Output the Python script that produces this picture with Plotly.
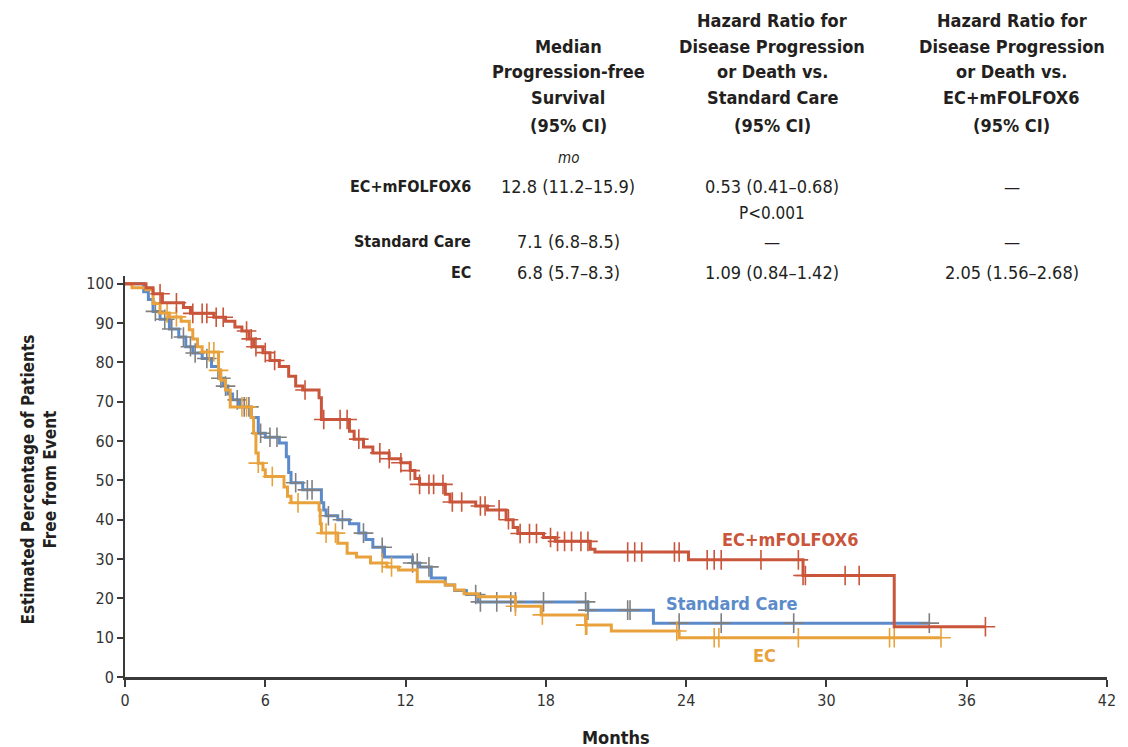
import plotly.graph_objects as go

# ---------------- data ----------------
red_t = [0, 0.9, 1.2, 1.6, 2.5, 2.8, 3.8, 4.3, 4.7, 5.0, 5.3, 5.5, 5.9, 6.2, 6.6, 7.0, 7.3, 7.6,
         8.3, 8.4, 9.6, 9.8, 10.2, 10.6, 11.3, 11.8, 12.2, 12.4, 12.6, 13.7, 13.9, 15.0, 15.5,
         16.3, 16.6, 16.8, 17.9, 18.4, 19.9, 20.1, 24.1, 29.0, 32.9]
red_s = [100, 99, 97.5, 95.2, 94, 92.5, 91.5, 90.5, 89, 88, 86, 84, 82.5, 80.5, 79, 76.5, 74, 73,
         71, 65.5, 62.5, 60.5, 58.5, 57, 55.5, 54.5, 52.5, 50.5, 49, 46.5, 44.5, 43.5, 42.5,
         40, 38, 36.5, 35.5, 34.5, 32.5, 31.8, 29.8, 25.8, 12.8]
red_end = 36.8
red_cens = [1.5, 2.2, 2.9, 3.3, 3.5, 3.9, 4.2, 5.2, 5.4, 5.6, 6.0, 6.4, 7.7, 8.5, 9.2, 9.5, 10.0,
            10.9, 11.3, 11.8, 12.2, 12.6, 13.0, 13.2, 13.6, 14.0, 14.4, 15.2, 15.4, 16.0, 16.4,
            16.9, 17.3, 17.6, 18.2, 18.5, 18.8, 19.1, 19.5, 19.8, 21.5, 21.8, 22.1, 23.5, 23.7,
            24.9, 25.2, 25.5, 27.2, 28.8, 29.0, 29.1, 30.8, 31.4, 36.8]

blue_t = [0, 0.8, 1.0, 1.2, 1.5, 1.9, 2.3, 2.6, 2.9, 3.3, 3.7, 4.0, 4.2, 4.4, 4.6, 4.9, 5.4, 5.7,
          6.0, 6.6, 6.9, 7.0, 7.1, 7.6, 8.4, 8.5, 8.6, 9.1, 9.6, 10.0, 10.3, 10.6, 11.1, 12.3,
          12.6, 13.1, 13.7, 14.1, 14.6, 15.1, 19.8, 22.6]
blue_s = [100, 98, 96, 93, 91, 88.5, 86.5, 84, 82.4, 81, 79, 76, 74, 72, 70.5, 68.7, 66, 62,
          61, 59.5, 56, 52, 49.4, 47.6, 44.3, 42.5, 41, 40, 39, 36.6, 35, 33, 30.5, 29,
          28, 25.2, 23.4, 22, 21, 19.1, 17, 13.7]
blue_end = 34.4
blue_cens = [1.3, 1.7, 2.0, 2.5, 2.8, 3.0, 3.5, 4.1, 4.3, 4.8, 5.1, 5.3, 5.8, 6.2, 6.5, 7.3, 7.8,
             8.0, 8.7, 9.3, 10.2, 11.0, 12.3, 12.5, 13.0, 15.0, 15.2, 15.9, 16.5, 16.7, 17.9,
             19.7, 19.8, 21.5, 21.6, 23.7, 25.5, 28.6, 34.4]

orange_t = [0, 0.3, 0.9, 1.2, 1.5, 1.9, 2.4, 2.75, 2.9, 3.1, 3.3, 4.0, 4.1, 4.3, 4.5, 5.4, 5.5,
            5.6, 5.7, 5.9, 6.0, 6.8, 6.95, 7.1, 8.3, 8.35, 8.4, 9.1, 9.5, 9.9, 10.5, 11.2, 11.7,
            12.5, 13.7, 14.1, 14.5, 15.1, 16.7, 17.8, 19.7, 20.8, 23.7]
orange_s = [100, 99, 98.5, 95, 92.6, 91.6, 90.5, 88.3, 86, 84, 82.7, 78, 75.5, 73, 68.7, 66, 62,
            57, 54.4, 52.7, 51, 48.3, 46, 44.3, 42.5, 39, 36.6, 34, 31.5, 30.5, 29, 28, 27.2,
            24.2, 23.4, 22.1, 21.2, 20.4, 18, 15.8, 13.2, 11.7, 10]
orange_end = 34.9
orange_cens = [1.8, 2.2, 3.6, 3.8, 4.0, 5.0, 5.2, 5.7, 6.3, 7.4, 8.6, 9.0, 11.0, 11.4, 16.7, 17.85,
               19.7, 19.75, 23.6, 25.2, 25.4, 28.8, 32.7, 32.9, 34.9]

x_ticks = [0, 6, 12, 18, 24, 30, 36, 42]
y_ticks = [0, 10, 20, 30, 40, 50, 60, 70, 80, 90, 100]

groups = ["EC+mFOLFOX6", "Standard Care", "EC"]
median_pfs = ["12.8 (11.2–15.9)", "7.1 (6.8–8.5)", "6.8 (5.7–8.3)"]
hr_vs_std = ["0.53 (0.41–0.68)", "—", "1.09 (0.84–1.42)"]
hr_vs_combo = ["—", "—", "2.05 (1.56–2.68)"]
p_value = "P<0.001"

RED = "#C9553B"
BLUE = "#5B8BCA"
ORANGE = "#E9A23B"
GRAY = "#808080"
TXT = "#231F20"
FONT = "Liberation Sans Narrow, DejaVu Sans Condensed, Liberation Sans, sans-serif"

# ---------------- helpers ----------------
def step_value(ts, ss, t):
    v = ss[0]
    for ti, si in zip(ts, ss):
        if t >= ti:
            v = si
    return v

fig = go.Figure()

def add_curve(ts, ss, end, cens, color, ccolor, name):
    fig.add_trace(go.Scatter(x=ts + [end], y=ss + [ss[-1]], mode="lines",
                             line=dict(color=color, width=3, shape="hv"),
                             name=name, showlegend=False, hoverinfo="skip"))
    fig.add_trace(go.Scatter(x=cens, y=[step_value(ts, ss, c) for c in cens], mode="markers",
                             marker=dict(symbol="cross-thin", size=14,
                                         line=dict(color=ccolor, width=1.6)),
                             showlegend=False, hoverinfo="skip", cliponaxis=False))

add_curve(blue_t, blue_s, blue_end, blue_cens, BLUE, GRAY, "Standard Care")
add_curve(orange_t, orange_s, orange_end, orange_cens, ORANGE, ORANGE, "EC")
add_curve(red_t, red_s, red_end, red_cens, RED, RED, "EC+mFOLFOX6")

# layout geometry (pixels)
W, H = 1128, 747
L, R, T, B = 125, 15, 276, 70
pw, ph = W - L - R, H - T - B

def px(xp):
    return (xp - L) / pw

def py(yp):
    return (H - B - yp) / ph

ann = []
def text(x, y, s, size=17, color=TXT, bold=False, anchor="center", italic=False, angle=0):
    if bold:
        s = "<b>" + s + "</b>"
    if italic:
        s = "<i>" + s + "</i>"
    ann.append(dict(x=px(x), y=py(y), xref="paper", yref="paper", text=s, showarrow=False,
                    xanchor=anchor, yanchor="middle", textangle=angle,
                    font=dict(family=FONT, size=size, color=color)))

# table header
col1, col2, col3 = 571, 776, 1017
hdr1 = ["Median", "Progression-free", "Survival", "(95% CI)"]
hdr2 = ["Hazard Ratio for", "Disease Progression", "or Death vs.", "Standard Care", "(95% CI)"]
hdr3 = ["Hazard Ratio for", "Disease Progression", "or Death vs.", "EC+mFOLFOX6", "(95% CI)"]
rows_y = [20, 46, 72, 98, 125]
for i, s in enumerate(hdr1):
    text(col1, rows_y[i + 1], s, size=18, bold=True)
for i, s in enumerate(hdr2):
    text(col2, rows_y[i], s, size=18, bold=True)
for i, s in enumerate(hdr3):
    text(col3, rows_y[i], s, size=18, bold=True)
text(col1, 158, "mo", size=15, italic=True)

row_y = [187, 242, 272]
for g, m, h1, h2, yy in zip(groups, median_pfs, hr_vs_std, hr_vs_combo, row_y):
    text(475, yy, g, size=16, bold=True, anchor="right")
    text(col1, yy, m, size=18)
    text(col2, yy, h1, size=18)
    text(col3, yy, h2, size=18)
text(col2, 213, p_value, size=17)

# curve labels
text(795, 539, "EC+mFOLFOX6", size=18, color=RED, bold=True)
text(735, 603, "Standard Care", size=18, color=BLUE, bold=True)
text(768, 655, "EC", size=18, color=ORANGE, bold=True)

# axis titles
text(619, 737, "Months", size=18, bold=True)
text(38, 480, "Estimated Percentage of Patients<br>Free from Event", size=17, bold=True, angle=-90)

fig.update_layout(
    width=W, height=H, margin=dict(l=L, r=R, t=T, b=B),
    paper_bgcolor="white", plot_bgcolor="white",
    annotations=ann,
    xaxis=dict(range=[0, 42], tickvals=x_ticks, ticktext=[str(v) for v in x_ticks],
               showgrid=False, zeroline=False, showline=True, linecolor="#3a3a3a", linewidth=2.5,
               ticks="outside", ticklen=7, tickwidth=1.5, tickcolor="#3a3a3a",
               tickfont=dict(family=FONT, size=16, color="#333")),
    yaxis=dict(range=[0, 102], tickvals=y_ticks, ticktext=[str(v) for v in y_ticks],
               showgrid=False, zeroline=False, showline=True, linecolor="#3a3a3a", linewidth=2,
               ticks="outside", ticklen=6, tickwidth=1.5, tickcolor="#3a3a3a",
               tickfont=dict(family=FONT, size=16, color="#333")),
)

fig.write_html("out.html")
